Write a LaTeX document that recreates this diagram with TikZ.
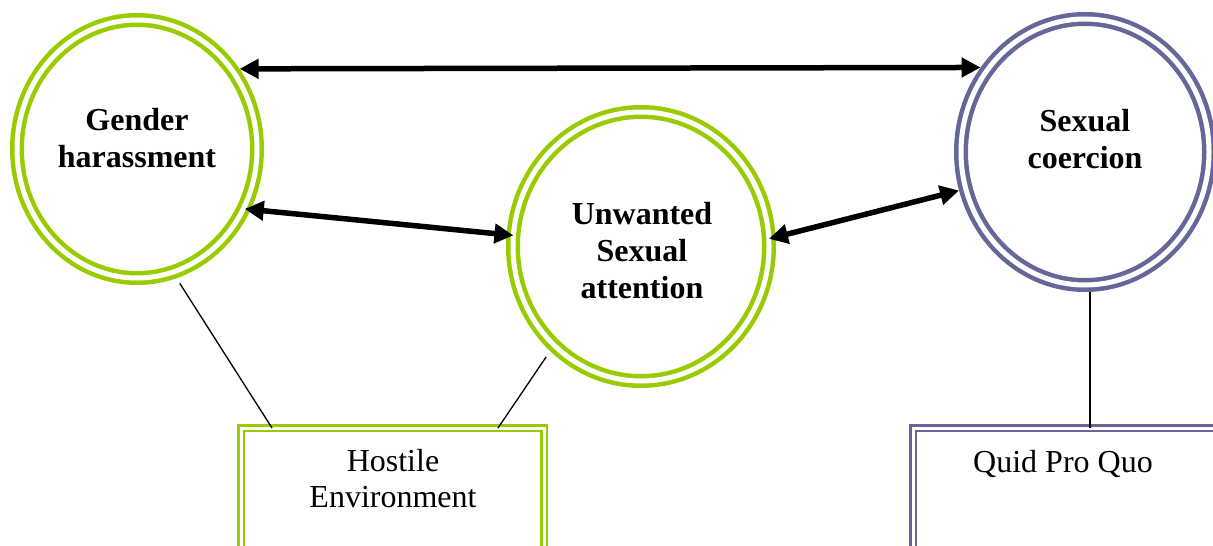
\documentclass[tikz,border=0pt]{standalone}
\usepackage{fontspec}
\setmainfont{Liberation Serif}
\usetikzlibrary{shapes.geometric,arrows.meta,calc}
\definecolor{gcol}{HTML}{99CC00}
\definecolor{pcol}{HTML}{666699}
\begin{document}
\begin{tikzpicture}[x=1pt,y=-1pt,
  ring/.style={ellipse, draw=#1, double=white, line width=4.5pt, double distance=5pt, inner sep=0pt, outer sep=7pt},
  dbox/.style={rectangle, draw=#1, double=white, line width=2.5pt, double distance=3pt, inner sep=0pt, outer sep=0pt, minimum height=144pt},
  arr/.style={{Triangle[length=19pt,width=19pt]}-{Triangle[length=19pt,width=19pt]}, line width=5.5pt},
  link/.style={line width=1.3pt},
  head/.style={font=\bfseries\fontsize{32}{37}\selectfont, align=center, inner sep=0pt},
  body/.style={font=\fontsize{32}{36}\selectfont, align=center, inner sep=0pt}]
\useasboundingbox (0,0) rectangle (1213,546);
\clip (0,0) rectangle (1213,546);

% rings
\node[ring=gcol, minimum width=240pt, minimum height=258pt] (gh) at (137,149) {};
\node[ring=gcol, minimum width=256pt, minimum height=269pt] (uw) at (641,246.5) {};
\node[ring=pcol, minimum width=248pt, minimum height=266pt] (cs) at (1085,152) {};

% boxes
\node[dbox=gcol, minimum width=303pt] (he) at (392.5,500) {};
\node[dbox=pcol, minimum width=317pt] (qp) at (1071.5,500) {};

% texts
\node[head] (ght) at (137,138) {Gender\\harassment};
\node[head] (uwt) at (642,251) {Unwanted\\Sexual\\attention};
\node[head] (cst) at (1085,139.5) {Sexual\\coercion};
\node[body] (het) at (393,479) {Hostile\\Environment};
\node[body, anchor=base] (qpt) at (1063,472) {Quid Pro Quo};

% arrows
\draw[arr] (gh.38.5) -- (cs.141.5);
\draw[arr, shorten <=-6pt, shorten >=-7pt] (gh.-28.1) -- (uw.175.8);
\draw[arr, shorten <=-7pt] (uw.4.2) -- (cs.-163.9);

% links
\draw[link, shorten <=6pt] (gh.-73.6) -- ($(he.north west)+(31,0)$);
\draw[link, shorten <=7pt] (uw.-131) -- ($(he.north east)+(-46,0)$);
\draw[link] (cs.-88.4) -- (cs.-88.4 |- qp.north);
\end{tikzpicture}
\end{document}
